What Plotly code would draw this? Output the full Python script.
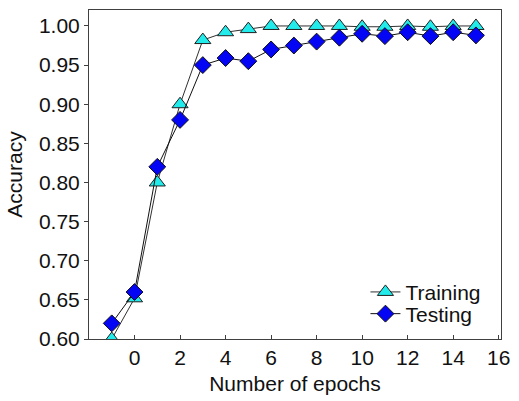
import plotly.graph_objects as go

# Accuracy per epoch for the training and testing sets
epochs = list(range(-1, 16))
training_acc = [0.600, 0.652, 0.800, 0.900, 0.982, 0.992, 0.996, 1.000, 1.000,
                1.000, 1.000, 0.999, 0.999, 1.000, 0.999, 1.000, 1.000]
testing_acc = [0.620, 0.660, 0.820, 0.880, 0.950, 0.959, 0.955, 0.970, 0.975,
               0.980, 0.985, 0.990, 0.987, 0.992, 0.987, 0.992, 0.988]

x_ticks = list(range(0, 17, 2))
y_ticks = [0.60, 0.65, 0.70, 0.75, 0.80, 0.85, 0.90, 0.95, 1.00]

FONT = "Liberation Sans, Arial, sans-serif"
AXIS_COLOR = "#404040"
FS = 21

fig = go.Figure()
fig.add_trace(go.Scatter(
    x=epochs, y=training_acc, name="Training", mode="lines+markers",
    legend="legend",
    line=dict(color="#303030", width=1),
    marker=dict(symbol="triangle-up", size=14, color="#22EBEB",
                line=dict(color="#202020", width=1)),
))
fig.add_trace(go.Scatter(
    x=epochs, y=testing_acc, name="Testing", mode="lines+markers",
    legend="legend2",
    line=dict(color="#101010", width=1),
    marker=dict(symbol="diamond", size=13, color="#0505F5",
                line=dict(color="#101010", width=1)),
))

legend_style = dict(xanchor="left", yanchor="middle",
                    bgcolor="rgba(0,0,0,0)", font=dict(size=FS))

fig.update_layout(
    width=519, height=401,
    margin=dict(l=89, r=12, t=9, b=62),
    paper_bgcolor="white", plot_bgcolor="white",
    font=dict(family=FONT, size=FS, color="#111111"),
    showlegend=True,
    legend=dict(x=0.671, y=0.142, **legend_style),
    legend2=dict(x=0.671, y=0.076, **legend_style),
    xaxis=dict(
        range=[-2, 16.1], tickvals=x_ticks, ticktext=[str(v) for v in x_ticks],
        ticks="inside", ticklen=4, tickcolor=AXIS_COLOR,
        showline=True, linecolor=AXIS_COLOR, linewidth=1, mirror=True,
        showgrid=False, zeroline=False,
        title=dict(text="Number of epochs", font=dict(size=FS), standoff=8),
    ),
    yaxis=dict(
        range=[0.6, 1.0204], tickvals=y_ticks,
        ticktext=[f"{v:.2f}" for v in y_ticks],
        ticks="outside", ticklen=4, tickcolor=AXIS_COLOR,
        showline=True, linecolor=AXIS_COLOR, linewidth=1, mirror=True,
        showgrid=False, zeroline=False,
        title=dict(text="Accuracy", font=dict(size=FS), standoff=10),
    ),
)

fig.write_html("out.html")
